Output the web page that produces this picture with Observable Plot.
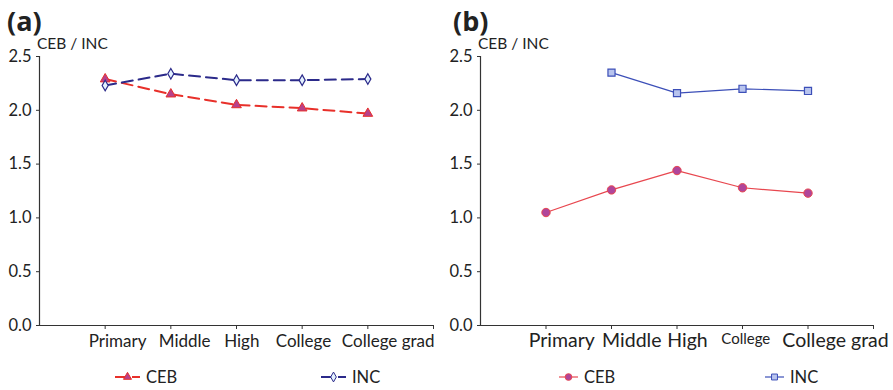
<!DOCTYPE html>
<html><head><meta charset="utf-8">
<script src="https://cdn.jsdelivr.net/npm/d3@7"></script>
<script src="https://cdn.jsdelivr.net/npm/@observablehq/plot@0.6"></script>
<style>
body{margin:0;background:#fff;font-family:Lato,"Open Sans",sans-serif;color:#222}
#wrap{position:relative;width:893px;height:390px;overflow:hidden}
.panel{position:absolute;top:0;height:390px}
.title{position:absolute;left:7px;top:2px;font-size:27px;font-weight:bold;font-family:"Open Sans",Lato,sans-serif}
.ylab{position:absolute;top:34px;font-size:15.5px}
.plotbox{position:absolute;left:0;top:0}
.leg{position:absolute;top:367px;height:20px;display:flex;align-items:center;font-size:16.5px}
.leg svg{margin-right:6px}
</style></head><body><div id="wrap"></div>
<script>
const categories = ["Primary", "Middle", "High", "College", "College grad"];
const ceb_a = [2.29, 2.15, 2.05, 2.02, 1.97];
const inc_a = [2.23, 2.34, 2.28, 2.28, 2.29];
const ceb_b = [1.05, 1.26, 1.44, 1.28, 1.23];
const inc_b = [null, 2.35, 2.16, 2.20, 2.18];
const yTicks = [0, 0.5, 1.0, 1.5, 2.0, 2.5];
const seriesNames = ["CEB", "INC"];

const toRows = (vals) => vals.map((v, i) => ({i: i + 1, cat: categories[i], v}));

function makePanel(cfg) {
  const panel = document.createElement("div");
  panel.className = "panel";
  panel.style.left = cfg.left + "px";
  panel.style.width = cfg.width + "px";
  document.getElementById("wrap").appendChild(panel);

  const ceb = toRows(cfg.ceb), inc = toRows(cfg.inc);
  const xt = d3.range(1, categories.length + 2);
  const labelRows = categories.map((c, i) => ({pos: i + 1 + cfg.shift[i], cat: c}));
  const chart = Plot.plot({
    width: cfg.width, height: 360,
    marginLeft: cfg.ml, marginRight: cfg.mr, marginTop: 56, marginBottom: 35,
    style: {fontFamily: "Lato, 'Open Sans', sans-serif", color: "#222", background: "transparent"},
    x: {domain: [0, categories.length + 1], axis: null},
    y: {domain: [0, 2.5], axis: null},
    marks: [
      Plot.axisY(yTicks, {tickSize: 3, tickPadding: 5, tickFormat: d3.format(".1f"), fontSize: 16.5, label: null, stroke: "#333"}),
      Plot.axisX(xt, {tickSize: 4, tickFormat: () => "", label: null, stroke: "#333"}),
      Plot.text(labelRows, {x: "pos", text: "cat", frameAnchor: "bottom", lineAnchor: "top", dy: cfg.ldy,
        fontSize: (d) => (d.cat === cfg.small ? 15 : cfg.fs), fill: "#222"}),
      Plot.ruleX([0], {stroke: "#333", strokeWidth: 1.2}),
      Plot.ruleY([0], {stroke: "#333", strokeWidth: 1.2}),
      Plot.line(ceb, {x: "i", y: "v", stroke: cfg.cebStroke, strokeWidth: cfg.sw, strokeDasharray: cfg.dash}),
      Plot.line(inc, {x: "i", y: "v", stroke: cfg.incStroke, strokeWidth: cfg.sw, strokeDasharray: cfg.dash}),
      Plot.dot(ceb.filter(d => d.v != null), {x: "i", y: "v", symbol: cfg.cebSym, r: cfg.cebR, fill: cfg.cebFill, stroke: cfg.cebStroke, strokeWidth: 1}),
      Plot.dot(inc.filter(d => d.v != null), {x: "i", y: "v", symbol: cfg.incSym, r: cfg.incR, fill: cfg.incFill, stroke: cfg.incStroke, strokeWidth: 1.2})
    ]
  });
  chart.classList.add("plotbox");
  panel.appendChild(chart);

  const t = document.createElement("div"); t.className = "title"; t.textContent = cfg.title; panel.appendChild(t);
  const yl = document.createElement("div"); yl.className = "ylab"; yl.style.left = (cfg.ml - 2) + "px"; yl.textContent = "CEB / INC"; panel.appendChild(yl);

  // legend
  const items = [
    {name: seriesNames[0], x: cfg.legX[0], stroke: cfg.cebStroke, fill: cfg.cebFill, sym: cfg.cebSym},
    {name: seriesNames[1], x: cfg.legX[1], stroke: cfg.incStroke, fill: cfg.incFill, sym: cfg.incSym}
  ];
  for (const it of items) {
    const lg = document.createElement("div"); lg.className = "leg"; lg.style.left = it.x + "px";
    const w = cfg.legW;
    const svg = d3.create("svg").attr("width", w).attr("height", 20);
    svg.append("line").attr("x1", 0).attr("x2", w).attr("y1", 10).attr("y2", 10)
      .attr("stroke", it.stroke).attr("stroke-width", cfg.sw).attr("stroke-dasharray", cfg.dash || null);
    const sym = {triangle: d3.symbolTriangle, diamond: d3.symbolDiamond, circle: d3.symbolCircle, square: d3.symbolSquare}[it.sym];
    svg.append("path").attr("transform", `translate(${w / 2},10)`).attr("d", d3.symbol(sym, cfg.legSize)())
      .attr("fill", it.fill).attr("stroke", it.stroke).attr("stroke-width", 1);
    lg.appendChild(svg.node());
    const s = document.createElement("span"); s.textContent = it.name; lg.appendChild(s);
    panel.appendChild(lg);
  }
}

makePanel({
  title: "(a)", left: 0, width: 446, ml: 39, mr: 13, fs: 17, ldy: 9,
  shift: [0.19, 0.21, 0.08, 0.02, 0.31],
  ceb: ceb_a, inc: inc_a, sw: 2, dash: "11,6",
  cebStroke: "#e8302a", cebFill: "#b8408a", cebSym: "triangle", cebR: 3.6,
  incStroke: "#2b2a8a", incFill: "#e4f2ff", incSym: "diamond", incR: 3.2,
  legX: [115, 321], legW: 25, legSize: 28
});
makePanel({
  title: "(b)", left: 446, width: 447, ml: 34, mr: 20, fs: 19.5, ldy: 8, small: "College",
  shift: [0.24, 0.31, 0.16, 0.05, 0.42],
  ceb: ceb_b, inc: inc_b, sw: 1.2, dash: null,
  cebStroke: "#e8474f", cebFill: "#b0459a", cebSym: "circle", cebR: 4.2,
  incStroke: "#3c4fb8", incFill: "#b8c4ee", incSym: "square", incR: 4,
  legX: [113, 319], legW: 19, legSize: 35
});
</script></body></html>
